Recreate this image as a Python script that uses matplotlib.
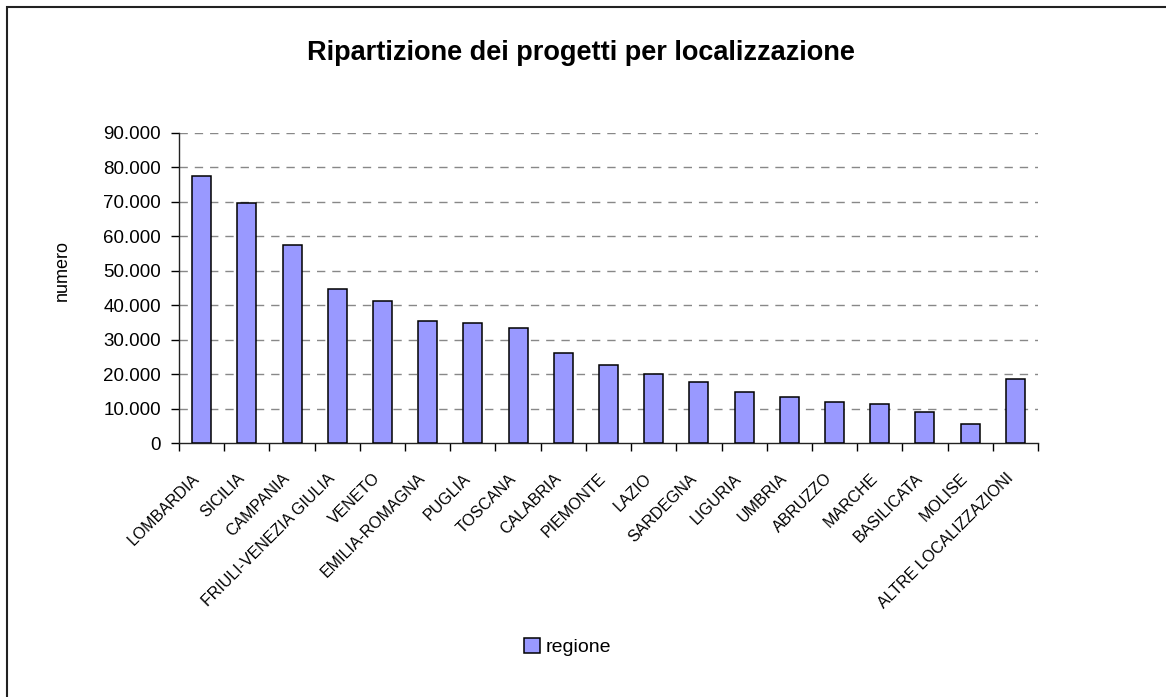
import numpy as np
import matplotlib.pyplot as plt
from matplotlib.patches import Rectangle
from matplotlib.ticker import FuncFormatter, FixedLocator
from matplotlib.transforms import ScaledTranslation

plt.rcParams['font.family'] = ['Liberation Sans', 'DejaVu Sans']

regioni = ['LOMBARDIA', 'SICILIA', 'CAMPANIA', 'FRIULI-VENEZIA GIULIA', 'VENETO',
           'EMILIA-ROMAGNA', 'PUGLIA', 'TOSCANA', 'CALABRIA', 'PIEMONTE', 'LAZIO',
           'SARDEGNA', 'LIGURIA', 'UMBRIA', 'ABRUZZO', 'MARCHE', 'BASILICATA',
           'MOLISE', 'ALTRE LOCALIZZAZIONI']
progetti = [77600, 69800, 57600, 44700, 41300, 35400, 34900, 33400, 26000, 22600,
            20100, 17600, 14700, 13300, 11800, 11300, 8900, 5400, 18700]
yticks = [0, 10000, 20000, 30000, 40000, 50000, 60000, 70000, 80000, 90000]

fig = plt.figure(figsize=(11.66, 6.97), dpi=100)
ax = fig.add_axes([0.1535, 0.3644, 0.7367, 0.4448])

x = np.arange(len(regioni))
ax.bar(x, progetti, width=0.42, color='#9999FF', edgecolor='black', linewidth=1.1,
       label='regione', zorder=3)

ax.set_xlim(-0.5, len(regioni) - 0.5)
ax.set_ylim(0, 90000)
ax.set_yticks(yticks)
ax.yaxis.set_major_formatter(FuncFormatter(lambda v, p: f'{int(v):,}'.replace(',', '.')))
ax.tick_params(axis='y', direction='out', length=6, width=1, labelsize=13.5, pad=7)

ax.set_xticks(x)
ax.set_xticklabels(regioni, rotation=45, ha='right', rotation_mode='anchor', fontsize=11.5)
ax.tick_params(axis='x', which='major', length=0, pad=20)
ax.xaxis.set_minor_locator(FixedLocator(np.arange(-0.5, len(regioni), 1.0)))
ax.tick_params(axis='x', which='minor', direction='out', length=6, width=1)
shift = ScaledTranslation(-10 / 100, 0, fig.dpi_scale_trans)
for lab in ax.get_xticklabels():
    lab.set_transform(lab.get_transform() + shift)

for v in yticks[1:]:
    ax.axhline(v, color='#888888', linewidth=1, dashes=(6, 5), zorder=1)

for s in ['top', 'right']:
    ax.spines[s].set_visible(False)
for s in ['left', 'bottom']:
    ax.spines[s].set_color('#222222')
    ax.spines[s].set_linewidth(1)

fig.text(0.498, 1 - 53 / 697, 'Ripartizione dei progetti per localizzazione', ha='center', va='center',
         fontsize=19.5, fontweight='bold')
fig.text(0.053, 0.612, 'numero', rotation=90, ha='center', va='center', fontsize=13)

fig.legend(loc='center', bbox_to_anchor=(0.487, 1 - 647 / 697), frameon=False,
           handlelength=0.8, handleheight=0.8, handletextpad=0.3,
           prop={'size': 14})

# outer chart border (only top and left visible in the crop)
fig.patches.append(Rectangle((7 / 1166, -0.1), 1.2, 1 - 7 / 697 + 0.1, transform=fig.transFigure,
                             fill=False, edgecolor='#222222', linewidth=1.5))

fig.savefig('out.png', dpi=100)
